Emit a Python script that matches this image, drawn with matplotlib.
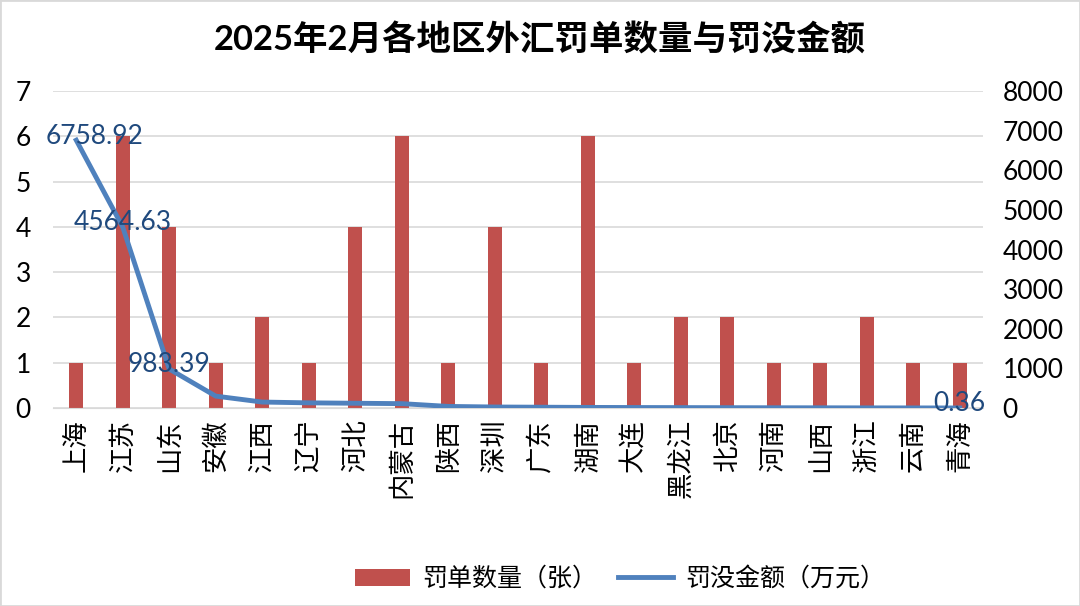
import matplotlib
matplotlib.use("Agg")
import matplotlib.pyplot as plt
import numpy as np

plt.rcParams['font.family'] = ['Lato', 'Noto Sans CJK SC', 'DejaVu Sans']

# data
regions = ['上海', '江苏', '山东', '安徽', '江西', '辽宁', '河北', '内蒙古', '陕西', '深圳',
           '广东', '湖南', '大连', '黑龙江', '北京', '河南', '山西', '浙江', '云南', '青海']
tickets = [1, 6, 4, 1, 2, 1, 4, 6, 1, 4, 1, 6, 1, 2, 2, 1, 1, 2, 1, 1]
amounts = [6758.92, 4564.63, 983.39, 300, 150, 130, 120, 110, 40, 25,
           20, 15, 12, 10, 8, 6, 5, 3, 2, 0.36]
labelled = {0: '6758.92', 1: '4564.63', 2: '983.39', 19: '0.36'}

bar_color = '#C0504D'
line_color = '#4F81BD'

fig = plt.figure(figsize=(10.8, 6.06), dpi=100)
ax = fig.add_axes([53 / 1080, 1 - 408 / 606, 930 / 1080, 317 / 606])
x = np.arange(len(regions))

ax.bar(x, tickets, width=0.31, color=bar_color, label='罚单数量（张）', zorder=2)
ax.set_xlim(-0.5, len(regions) - 0.5)
ax.set_ylim(0, 7)
ax.set_yticks(range(0, 8))
ax.grid(axis='y', color='#D9D9D9', linewidth=1.2, zorder=0)
ax.set_axisbelow(True)
for s in ax.spines.values():
    s.set_visible(False)
ax.spines['bottom'].set_visible(True)
ax.spines['bottom'].set_color('#D9D9D9')
ax.tick_params(axis='both', length=0, labelsize=19)
ax.tick_params(axis='y', pad=16)
ax.tick_params(axis='x', pad=8)
ax.set_xticks(x)
ax.set_xticklabels(regions, rotation=90, fontsize=19, va='top',
                   family=['Noto Sans CJK SC'])

ax2 = ax.twinx()
ax2.plot(x, amounts, color=line_color, linewidth=3.5, label='罚没金额（万元）', zorder=3)
ax2.set_ylim(0, 8000)
ax2.set_yticks(range(0, 8001, 1000))
for s in ax2.spines.values():
    s.set_visible(False)
ax2.tick_params(axis='y', length=0, labelsize=19, pad=14)

for i, txt in labelled.items():
    dx = 13 if i == 0 else 0
    ax2.annotate(txt, (x[i], amounts[i]), xytext=(dx, 3), textcoords='offset points',
                 ha='center', va='center', fontsize=19, color='#1F497D', zorder=4)

fig.text(0.5, 1 - 40 / 606, '2025年2月各地区外汇罚单数量与罚没金额', ha='center', va='center',
         fontsize=24.8, fontweight='bold', family=['Lato', 'Noto Sans CJK SC'])

h1, l1 = ax.get_legend_handles_labels()
h2, l2 = ax2.get_legend_handles_labels()
fig.legend(h1 + h2, l1 + l2, loc='center', bbox_to_anchor=(620 / 1080, 1 - 579 / 606),
           ncol=2, frameon=False, handlelength=2.2, columnspacing=0.8,
           handletextpad=0.5, prop={'family': ['Noto Sans CJK SC'], 'size': 18})

fig.patches.append(plt.Rectangle((0, 0), 1, 1, transform=fig.transFigure, fill=False,
                                 edgecolor='#D9D9D9', linewidth=2))

fig.savefig('out.png', dpi=100)
